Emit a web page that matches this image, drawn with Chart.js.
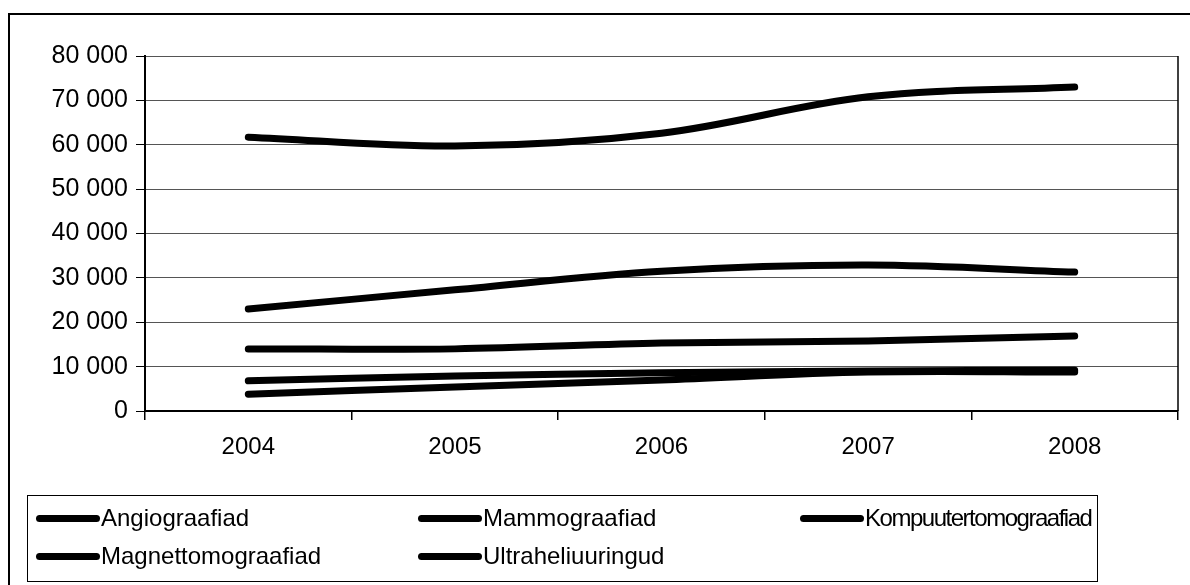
<!DOCTYPE html>
<html>
<head>
<meta charset="utf-8">
<script src="https://cdn.jsdelivr.net/npm/chart.js@4.4.1/dist/chart.umd.min.js"></script>
<style>
    body { margin: 0; background: #fff; font-family: "Liberation Sans", Arial, sans-serif; }
    #raam { position: absolute; left: 8px; top: 13px; width: 1190px; height: 580px;
            border-left: 2px solid #000; border-top: 2px solid #000; }
    #wrap { position: absolute; left: 0; top: 0; width: 1190px; height: 585px; }
    #legend { position: absolute; left: 27px; top: 495px; width: 1071px; height: 87px;
              border: 1px solid #000; box-sizing: border-box; }
    .item { position: absolute; display: flex; align-items: center; font-size: 24px; color: #000; white-space: nowrap; }
    .item .joon { width: 64px; height: 7px; background: #000; border-radius: 4px; margin-right: 1px; flex: none; }
</style>
</head>
<body>
<div id="raam"></div>
<div id="wrap"><canvas id="graafik" width="1190" height="585"></canvas></div>
<div id="legend"></div>
<script>
    // Andmed
    const aastad = ['2004', '2005', '2006', '2007', '2008'];
    const seeriad = ['Angiograafiad', 'Mammograafiad', 'Kompuutertomograafiad', 'Magnettomograafiad', 'Ultraheliuuringud'];
    const angio = [3800, 5400, 7000, 8800, 8800];
    const mammo = [14000, 14000, 15300, 15800, 16900];
    const kompuuter = [23000, 27300, 31500, 32900, 31300];
    const magnet = [6800, 7900, 8600, 9000, 9200];
    const ultraheli = [61700, 59700, 62600, 70800, 73000];
    const yTicks = [0, 10000, 20000, 30000, 40000, 50000, 60000, 70000, 80000];

    const vaartused = [angio, mammo, kompuuter, magnet, ultraheli];

    // Joonistab diagrammiala parema serva
    const raamPlugin = {
        id: 'raamPlugin',
        afterDraw(chart) {
            const a = chart.chartArea;
            const c = chart.ctx;
            c.save();
            c.strokeStyle = '#000';
            c.lineWidth = 1.5;
            c.beginPath();
            c.moveTo(a.right, a.top);
            c.lineTo(a.right, a.bottom);
            c.stroke();
            c.restore();
        }
    };

    const ctx = document.getElementById('graafik').getContext('2d');
    const graafik = new Chart(ctx, {
        type: 'line',
        data: {
            labels: aastad,
            datasets: seeriad.map((nimi, i) => ({
                label: nimi,
                data: vaartused[i],
                borderColor: '#000',
                borderWidth: 7,
                borderCapStyle: 'round',
                borderJoinStyle: 'round',
                pointRadius: 0,
                tension: 0.35,
                fill: false
            }))
        },
        options: {
            responsive: false,
            animation: false,
            layout: { padding: { left: 30, top: 56, right: 12, bottom: 114 } },
            plugins: {
                legend: { display: false },
                tooltip: { enabled: false }
            },
            scales: {
                x: {
                    offset: true,
                    grid: { drawOnChartArea: false, drawTicks: true, tickLength: 9, offset: true, color: '#000', lineWidth: 1.5 },
                    border: { color: '#000', width: 2 },
                    ticks: { color: '#000', font: { family: 'Liberation Sans', size: 24 }, padding: 13 },
                    afterFit: s => { s.height = 60; }
                },
                y: {
                    min: 0,
                    max: 80000,
                    afterBuildTicks: s => { s.ticks = yTicks.map(v => ({ value: v })); },
                    grid: { color: '#555', lineWidth: 1, tickLength: 9, tickColor: '#000' },
                    border: { color: '#000', width: 2 },
                    ticks: {
                        color: '#000',
                        font: { family: 'Liberation Sans', size: 25 },
                        padding: 8,
                        callback: v => String(v).replace(/\B(?=(\d{3})+(?!\d))/g, ' ')
                    },
                    afterFit: s => { s.width = 115; }
                }
            }
        },
        plugins: [raamPlugin]
    });

    // Legend kolmes veerus
    const veerud = [8, 390, 772];
    const read = [8, 46];
    const leg = document.getElementById('legend');
    graafik.data.datasets.forEach((ds, i) => {
        const el = document.createElement('div');
        el.className = 'item';
        el.style.left = veerud[i % 3] + 'px';
        el.style.top = read[Math.floor(i / 3)] + 'px';
        el.innerHTML = '<span class="joon"></span><span></span>';
        const tekst = el.lastChild;
        tekst.textContent = ds.label;
        leg.appendChild(el);
        // kui tekst ei mahu kasti, tihendame tähevahet
        const ruum = leg.clientWidth - 6 - (veerud[i % 3] + 65);
        const ule = tekst.offsetWidth - ruum;
        if (ule > 0) {
            tekst.style.letterSpacing = (-ule / ds.label.length).toFixed(2) + 'px';
        }
    });
</script>
</body>
</html>
